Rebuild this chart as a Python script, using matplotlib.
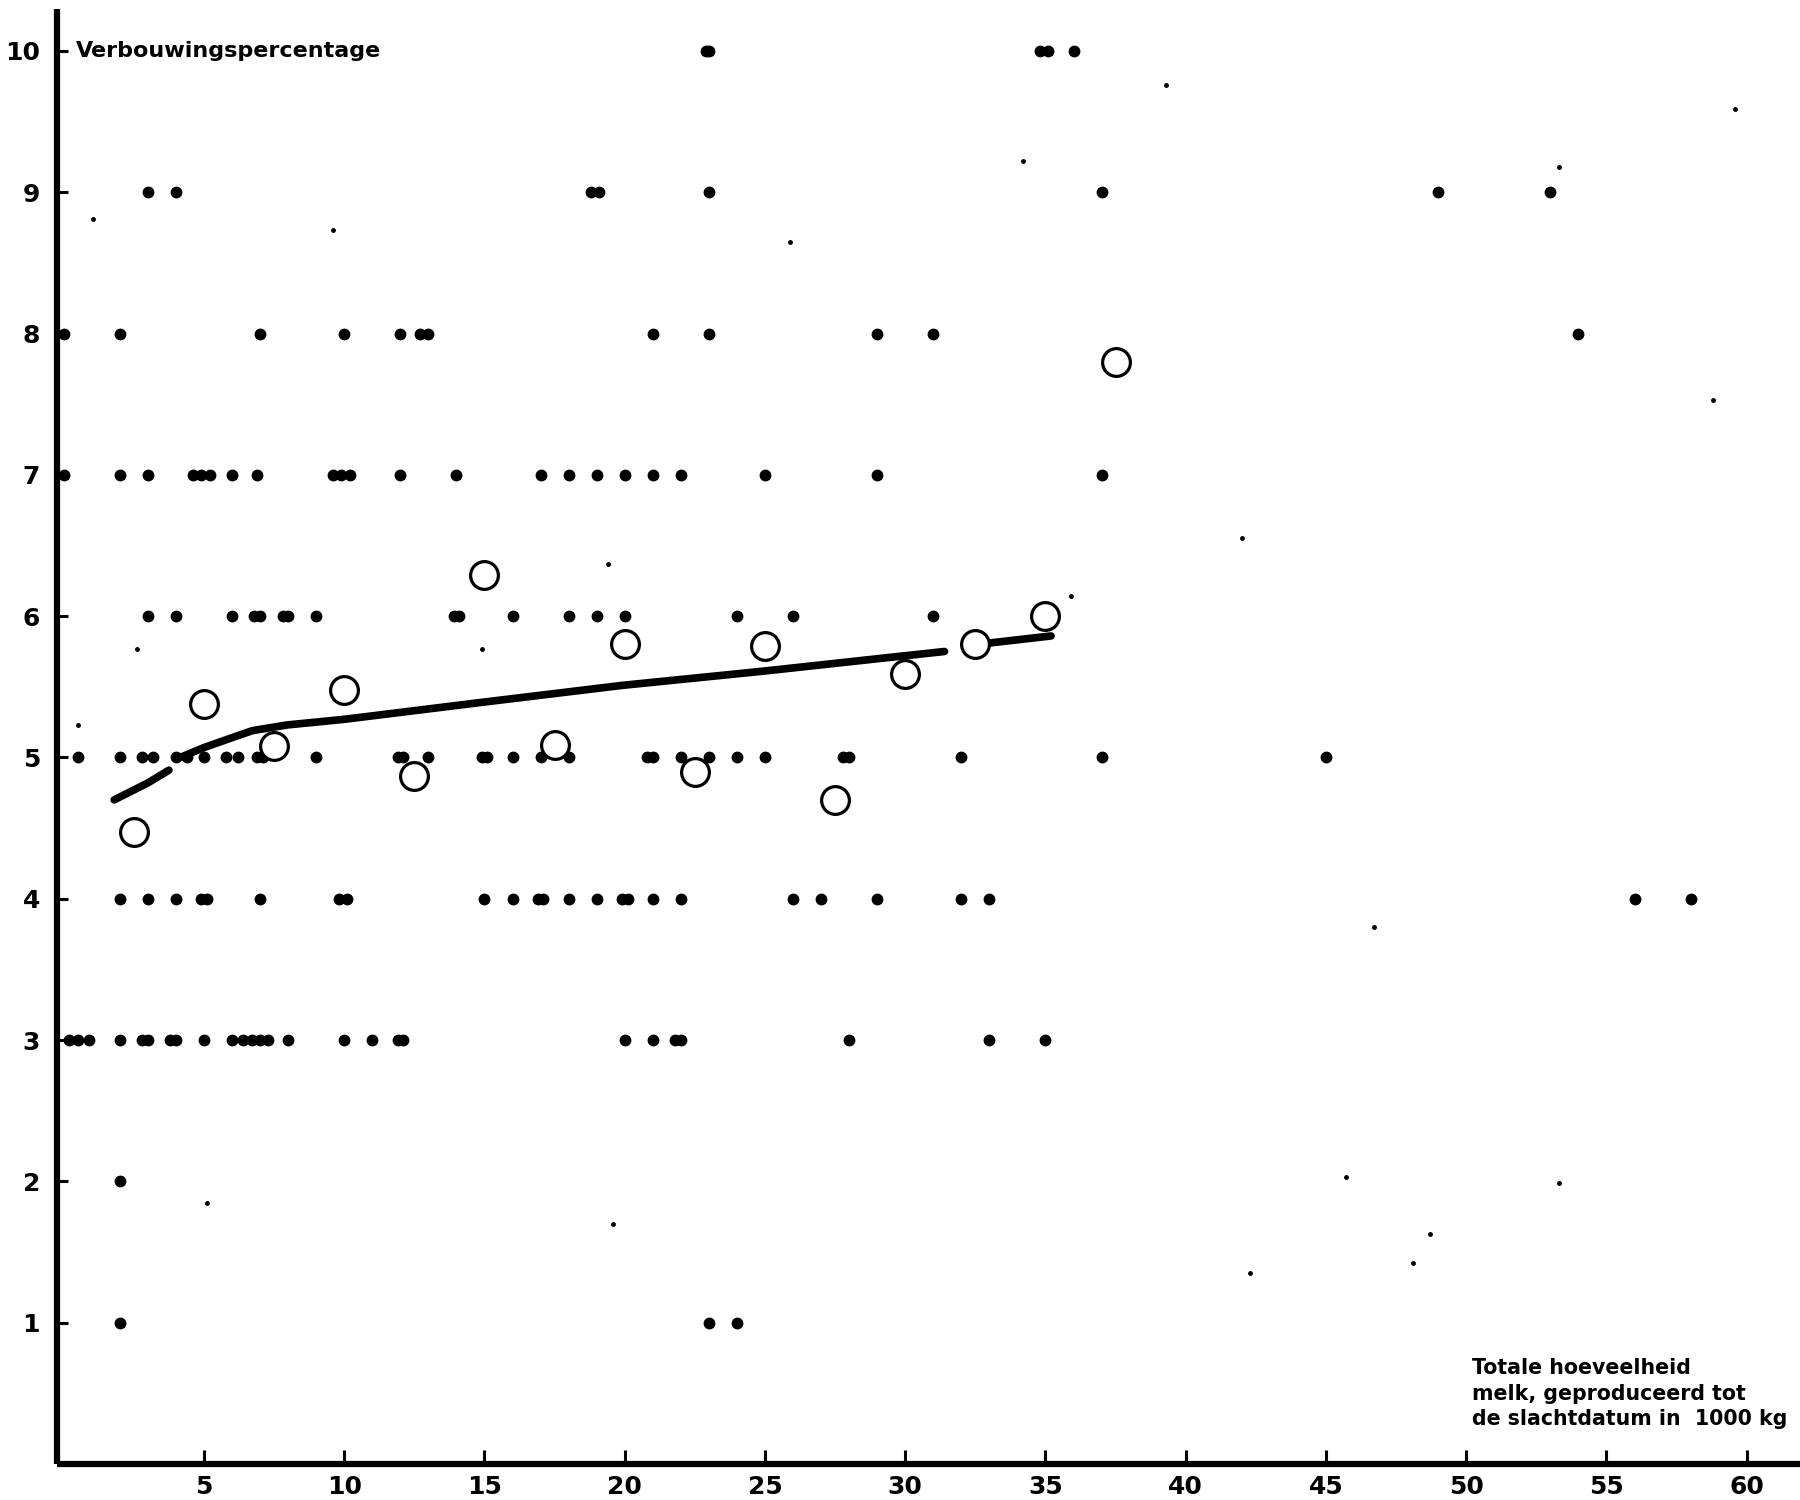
import numpy as np
import matplotlib
matplotlib.use("Agg")
import matplotlib.pyplot as plt

plt.rcParams['font.family'] = ['DejaVu Sans']

# ---- data: individual observations, grouped by percentage (y) ----
row_10 = [22.9, 23.0, 34.8, 35.1, 36]
row_9 = [3, 4, 18.8, 19.1, 23, 37, 49, 53]
row_8 = [0, 2, 7, 10, 12, 12.7, 13.0, 21, 23, 29, 31, 54]
row_7 = [0, 2, 3, 4.6, 4.9, 5.2, 6, 6.9, 9.6, 9.9, 10.2, 12, 14, 17, 18, 19, 20, 21, 22, 25, 29, 37]
row_6 = [3, 4, 6, 6.8, 7.0, 7.8, 8.0, 9, 13.9, 14.1, 16, 18, 19, 20, 24, 26, 31]
row_5 = [0.5, 2, 2.8, 3.2, 4, 4.4, 5, 5.8, 6.2, 6.9, 7.1, 9, 11.9, 12.1, 13, 14.9, 15.1,
         16, 17, 18, 20.8, 21, 22, 23, 24, 25, 27.8, 28, 32, 37, 45]
row_4 = [2, 3, 4, 4.9, 5.1, 7, 9.8, 10.1, 15, 16, 16.9, 17.1, 18, 19, 19.9, 20.1, 21, 22,
         26, 27, 29, 32, 33, 56, 58]
row_3 = [0.2, 0.5, 0.9, 2, 2.8, 3.0, 3.8, 4.0, 5, 6, 6.4, 6.7, 7.0, 7.3, 8, 10, 11, 11.9,
         12.1, 20, 21, 21.8, 22, 28, 33, 35]
row_2 = [2]
row_1 = [2, 23, 24]
row_levels = [10, 9, 8, 7, 6, 5, 4, 3, 2, 1]

# ---- class means (open circles) ----
mean_x = [2.5, 5, 7.5, 10, 12.5, 15, 17.5, 20, 22.5, 25, 27.5, 30, 32.5, 35, 37.5]
mean_y = [4.47, 5.38, 5.08, 5.48, 4.87, 6.29, 5.09, 5.80, 4.90, 5.79, 4.70, 5.59, 5.80, 6.00, 7.80]

# ---- fitted curve (broken where it passes markers) ----
fit_x = [1.8, 3.0, 3.75, np.nan, 4.15, 5.0, 6.0, 6.73, 7.96, 10, 14.9, 19.9, 24.9, 30, 31.4, np.nan, 33.0, 35.2]
fit_y = [4.70, 4.82, 4.91, np.nan, 5.00, 5.07, 5.14, 5.19, 5.23, 5.27, 5.39, 5.51, 5.61, 5.72, 5.75, np.nan, 5.81, 5.86]

# ---- small specks on the print ----
speck_x = [39.3, 34.2, 59.6, 53.3, 1.05, 9.6, 25.9, 58.8, 42.0, 35.9, 19.4, 14.9, 2.6, 0.5,
           46.7, 45.7, 53.3, 19.6, 48.7, 48.1, 42.3, 5.1]
speck_y = [9.76, 9.22, 9.59, 9.18, 8.81, 8.73, 8.65, 7.53, 6.55, 6.14, 6.37, 5.77, 5.77, 5.23,
           3.80, 2.03, 1.99, 1.70, 1.63, 1.42, 1.35, 1.85]

x_ticks = [5, 10, 15, 20, 25, 30, 35, 40, 45, 50, 55, 60]
y_ticks = [1, 2, 3, 4, 5, 6, 7, 8, 9, 10]
y_title = "Verbouwingspercentage"
x_title = "Totale hoeveelheid\nmelk, geproduceerd tot\nde slachtdatum in  1000 kg"

rows = [row_10, row_9, row_8, row_7, row_6, row_5, row_4, row_3, row_2, row_1]
dots_x = np.concatenate([np.asarray(r, float) for r in rows])
dots_y = np.concatenate([np.full(len(r), lvl, float) for r, lvl in zip(rows, row_levels)])

fig = plt.figure(figsize=(18, 15), dpi=100)
ax = fig.add_axes([0.0315, 0.0240, 0.9685, 0.9703])
ax.set_xlim(-0.25, 61.9)
ax.set_ylim(0, 10.3)

ax.plot(speck_x, speck_y, linestyle='none', marker='o', markersize=2.5, color='black', zorder=2)
ax.plot(dots_x, dots_y, linestyle='none', marker='o', markersize=7.5, color='black',
        zorder=4, clip_on=False)
ax.plot(fit_x, fit_y, color='black', linewidth=5.5, solid_capstyle='round', zorder=3)
ax.plot(mean_x, mean_y, linestyle='none', marker='o', markersize=20, markerfacecolor='white',
        markeredgecolor='black', markeredgewidth=2.3, zorder=5)

for s in ['top', 'right']:
    ax.spines[s].set_visible(False)
for s in ['left', 'bottom']:
    ax.spines[s].set_linewidth(4.5)
    ax.spines[s].set_capstyle('butt')

ax.set_xticks(x_ticks)
ax.set_yticks(y_ticks)
ax.set_xticklabels([str(t) for t in x_ticks])
ax.set_yticklabels([str(t) for t in y_ticks])
ax.tick_params(axis='both', direction='in', width=2.2, labelsize=18)
ax.tick_params(axis='x', length=10, pad=8)
ax.tick_params(axis='y', length=8, pad=12)
for lab in ax.get_xticklabels() + ax.get_yticklabels():
    lab.set_fontweight('bold')

ax.text(0.45, 10.0, y_title, fontsize=16, fontweight='bold', ha='left', va='center')
ax.text(50.2, 0.75, x_title, fontsize=14.8, fontweight='bold', ha='left', va='top',
        linespacing=1.35)

fig.savefig("out.png", dpi=100, facecolor='white')
